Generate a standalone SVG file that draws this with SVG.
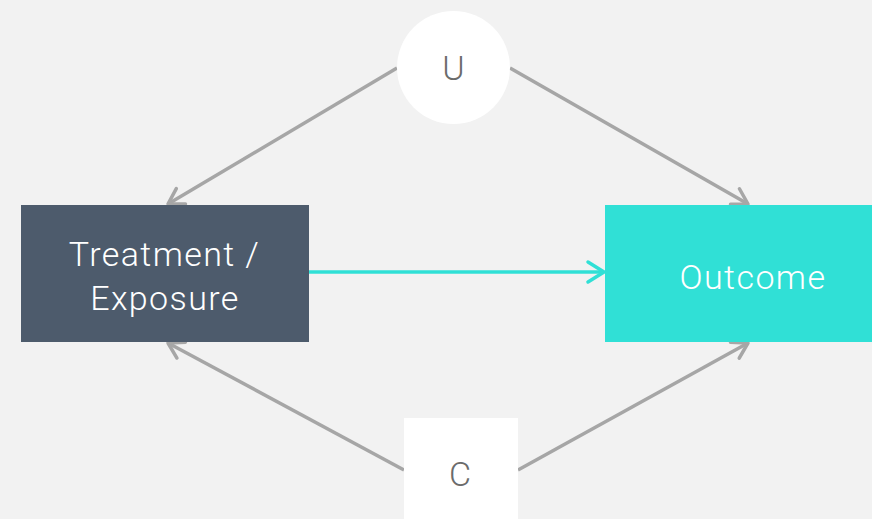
<svg xmlns="http://www.w3.org/2000/svg" width="872" height="519" viewBox="0 0 872 519">
  <defs>
    <style>
      .lbl { font-family: Roboto, "Liberation Sans", sans-serif; font-weight: 300; text-anchor: middle; }
      .light { fill: #ffffff; font-size: 34px; letter-spacing: 1.4px; }
      .dark { fill: #6b6b6b; font-size: 34px; }
      .edge { fill: none; stroke: #a6a6a6; stroke-width: 3.5; }
      .main { fill: none; stroke: #30e0d6; stroke-width: 3.5; }
    </style>
    <marker id="arrGray" viewBox="0 0 12 12" refX="11" refY="6" markerWidth="12" markerHeight="12" markerUnits="userSpaceOnUse" orient="auto" overflow="visible">
      <path d="M-4,-3 L11,6 L-4,15" fill="none" stroke="#a6a6a6" stroke-width="3.5" stroke-linecap="round" stroke-linejoin="round"/>
    </marker>
    <marker id="arrTeal" viewBox="0 0 12 12" refX="11" refY="6" markerWidth="12" markerHeight="12" markerUnits="userSpaceOnUse" orient="auto" overflow="visible">
      <path d="M-5,-4 L11,6 L-5,16" fill="none" stroke="#30e0d6" stroke-width="3.5" stroke-linecap="round" stroke-linejoin="round"/>
    </marker>
  </defs>

  <rect x="0" y="0" width="872" height="519" fill="#f2f2f2"/>

  <g id="connectors">
    <line class="edge" x1="397" y1="68" x2="168" y2="204" marker-end="url(#arrGray)"/>
    <line class="edge" x1="510" y1="68" x2="748" y2="204" marker-end="url(#arrGray)"/>
    <line class="edge" x1="404" y1="470" x2="168" y2="343" marker-end="url(#arrGray)"/>
    <line class="edge" x1="518" y1="470" x2="748" y2="343" marker-end="url(#arrGray)"/>
    <line class="main" x1="309" y1="272" x2="604" y2="272" marker-end="url(#arrTeal)"/>
  </g>

  <g id="node-u">
    <circle cx="453.5" cy="67.5" r="56.5" fill="#ffffff"/>
    <text class="lbl dark" x="453.5" y="80">U</text>
  </g>

  <g id="node-treatment">
    <rect x="21" y="205" width="288" height="137" fill="#4d5b6c"/>
    <text class="lbl light" x="164.5" y="266">Treatment /</text>
    <text class="lbl light" x="165" y="310">Exposure</text>
  </g>

  <g id="node-outcome">
    <rect x="605" y="205" width="267" height="137" fill="#30e0d6"/>
    <text class="lbl light" x="753" y="289">Outcome</text>
  </g>

  <g id="node-c">
    <rect x="404" y="418" width="114" height="101" fill="#ffffff"/>
    <text class="lbl dark" x="460" y="486">C</text>
  </g>
</svg>
